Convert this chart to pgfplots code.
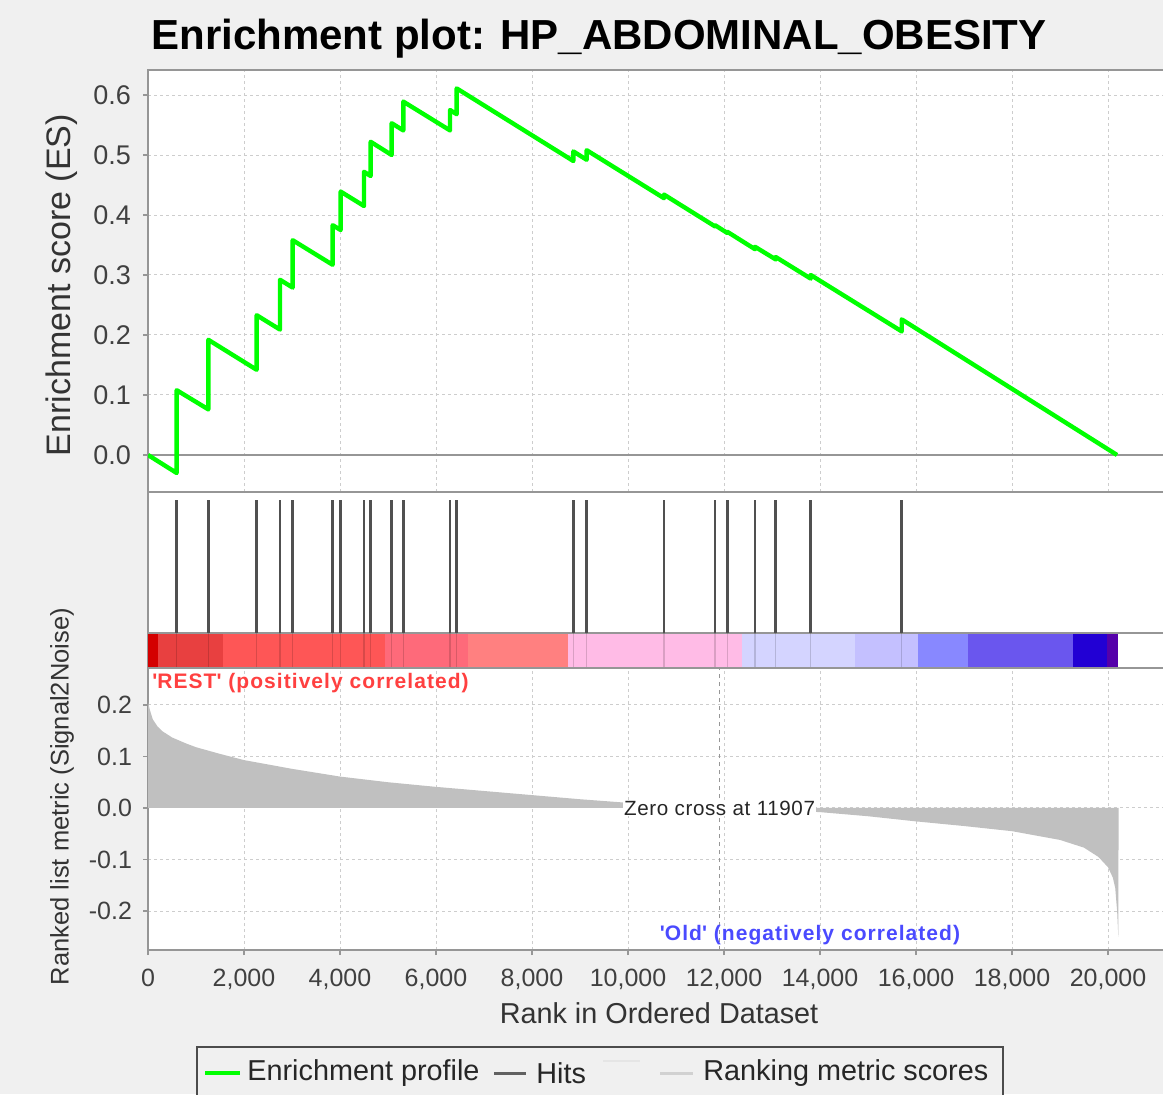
\documentclass[border=0pt]{standalone}
\usepackage{pgfplots}
\pgfplotsset{compat=1.18}
\usepackage{fontspec}
\setmainfont{Liberation Sans}
\definecolor{bg}{RGB}{240,240,240}
\definecolor{esgreen}{RGB}{0,255,0}
\definecolor{hitgray}{RGB}{80,80,80}
\definecolor{fillgray}{RGB}{192,192,192}
\definecolor{gridgray}{RGB}{205,205,205}
\definecolor{framegray}{RGB}{150,150,150}
\definecolor{restred}{RGB}{255,64,64}
\definecolor{oldblue}{RGB}{74,74,255}
\definecolor{cA}{RGB}{212,0,0}
\definecolor{cB}{RGB}{232,64,64}
\definecolor{cC}{RGB}{254,86,86}
\definecolor{cD}{RGB}{254,106,122}
\definecolor{cE}{RGB}{255,128,128}
\definecolor{cF}{RGB}{255,187,230}
\definecolor{cG}{RGB}{212,212,255}
\definecolor{cH}{RGB}{196,192,255}
\definecolor{cI}{RGB}{136,136,255}
\definecolor{cJ}{RGB}{106,86,238}
\definecolor{cK}{RGB}{34,0,212}
\definecolor{cL}{RGB}{85,0,170}
\pgfplotsset{
  gseaaxis/.style={
    scale only axis, width=509pt, anchor=south west,
    xmin=0, xmax=21208,
    axis background/.style={fill=white},
    axis line style={framegray, line width=0.6pt},
    tick align=outside, tick pos=left,
    major tick length=2.5pt,
    tick style={framegray, line width=0.6pt},
    major grid style={gridgray, dash pattern=on 1.5pt off 1.5pt, line width=0.5pt},
    scaled x ticks=false, scaled y ticks=false,
    clip=true,
  }
}
\begin{document}
\begin{tikzpicture}[x=0.5pt,y=0.5pt]
\useasboundingbox (0,0) rectangle (1163,1094);
\fill[bg] (0,0) rectangle (1163,1094);
\begin{scope}
\clip (0,0) rectangle (1163,1094);
% title
\node[anchor=base, font=\bfseries\fontsize{21}{25}\selectfont, inner sep=0pt] at (599,1044) {Enrichment plot: HP\_ABDOMINAL\_OBESITY};

% ---------------- top: enrichment score
\begin{axis}[gseaaxis,
  at={(74pt,301pt)}, height=211pt,
  ymin=-0.0617, ymax=0.6417,
  xtick={0,2000,4000,6000,8000,10000,12000,14000,16000,18000,20000},
  xticklabels={}, xtick style={draw=none},
  ytick={0,0.1,0.2,0.3,0.4,0.5,0.6},
  yticklabel style={font=\fontsize{13.5}{16}\selectfont, text=black!75, xshift=-2.5pt,
    /pgf/number format/.cd, fixed, fixed zerofill, precision=1, assume math mode=true},
  grid=major,
  ylabel={Enrichment score (ES)},
  ylabel style={at={(axis description cs:-0.0845,0.49)}, anchor=center,
    font=\fontsize{17}{20}\selectfont, text=black!80},
]
\addplot[framegray, line width=0.75pt] coordinates {(0,0) (21208,0)};
\addplot[esgreen, line width=2.2pt, line join=round] coordinates {
(0,0)
(597,-0.030) (597,0.108)
(1257,0.076) (1257,0.192)
(2264,0.142) (2264,0.233)
(2750,0.209) (2750,0.292)
(3014,0.279) (3014,0.358)
(3847,0.317) (3847,0.383)
(4014,0.375) (4014,0.439)
(4500,0.415) (4500,0.472)
(4639,0.465) (4639,0.522)
(5076,0.500) (5076,0.553)
(5319,0.541) (5319,0.589)
(6292,0.541) (6292,0.575)
(6431,0.568) (6431,0.611)
(8861,0.490) (8861,0.506)
(9139,0.492) (9139,0.508)
(10750,0.428) (10750,0.434)
(11813,0.381) (11813,0.383)
(12069,0.370) (12069,0.372)
(12646,0.343) (12646,0.347)
(13077,0.326) (13077,0.330)
(13806,0.294) (13806,0.300)
(15702,0.206) (15702,0.226)
(20188,0.0)
};
\end{axis}

% ---------------- middle: hits and colour bar
\begin{axis}[gseaaxis,
  at={(74pt,213pt)}, height=88pt,
  ymin=0, ymax=176,
  xtick=\empty, ytick=\empty,
]
\addplot[fill=cA, draw=none] coordinates {(0,0)(215,0)(215,35)(0,35)} -- cycle;
\addplot[fill=cB, draw=none] coordinates {(215,0)(1569,0)(1569,35)(215,35)} -- cycle;
\addplot[fill=cC, draw=none] coordinates {(1569,0)(4937,0)(4937,35)(1569,35)} -- cycle;
\addplot[fill=cD, draw=none] coordinates {(4937,0)(6673,0)(6673,35)(4937,35)} -- cycle;
\addplot[fill=cE, draw=none] coordinates {(6673,0)(8756,0)(8756,35)(6673,35)} -- cycle;
\addplot[fill=cF, draw=none] coordinates {(8756,0)(12368,0)(12368,35)(8756,35)} -- cycle;
\addplot[fill=cG, draw=none] coordinates {(12368,0)(14729,0)(14729,35)(12368,35)} -- cycle;
\addplot[fill=cH, draw=none] coordinates {(14729,0)(16048,0)(16048,35)(14729,35)} -- cycle;
\addplot[fill=cI, draw=none] coordinates {(16048,0)(17090,0)(17090,35)(16048,35)} -- cycle;
\addplot[fill=cJ, draw=none] coordinates {(17090,0)(19277,0)(19277,35)(17090,35)} -- cycle;
\addplot[fill=cK, draw=none] coordinates {(19277,0)(19973,0)(19973,35)(19277,35)} -- cycle;
\addplot[fill=cL, draw=none] coordinates {(19973,0)(20215,0)(20215,35)(19973,35)} -- cycle;
\addplot[framegray, line width=0.6pt] coordinates {(0,35)(21208,35)};
% hits: faint through the bar, dark above it
\addplot[black, opacity=0.15, line width=0.6pt, unbounded coords=jump] coordinates {
(597,0)(597,35)(597,nan) (1257,0)(1257,35)(1257,nan) (2264,0)(2264,35)(2264,nan)
(2750,0)(2750,35)(2750,nan) (3014,0)(3014,35)(3014,nan) (3847,0)(3847,35)(3847,nan)
(4014,0)(4014,35)(4014,nan) (4500,0)(4500,35)(4500,nan) (4639,0)(4639,35)(4639,nan)
(5076,0)(5076,35)(5076,nan) (5319,0)(5319,35)(5319,nan) (6292,0)(6292,35)(6292,nan)
(6431,0)(6431,35)(6431,nan) (8861,0)(8861,35)(8861,nan) (9139,0)(9139,35)(9139,nan)
(10750,0)(10750,35)(10750,nan) (11813,0)(11813,35)(11813,nan) (12069,0)(12069,35)(12069,nan)
(12646,0)(12646,35)(12646,nan) (13077,0)(13077,35)(13077,nan) (13806,0)(13806,35)(13806,nan)
(15702,0)(15702,35)
};
\addplot[hitgray, line width=1.4pt, unbounded coords=jump] coordinates {
(597,35)(597,168)(597,nan) (1257,35)(1257,168)(1257,nan) (2264,35)(2264,168)(2264,nan)
(2750,35)(2750,168)(2750,nan) (3014,35)(3014,168)(3014,nan) (3847,35)(3847,168)(3847,nan)
(4014,35)(4014,168)(4014,nan) (4500,35)(4500,168)(4500,nan) (4639,35)(4639,168)(4639,nan)
(5076,35)(5076,168)(5076,nan) (5319,35)(5319,168)(5319,nan) (6292,35)(6292,168)(6292,nan)
(6431,35)(6431,168)(6431,nan) (8861,35)(8861,168)(8861,nan) (9139,35)(9139,168)(9139,nan)
(10750,35)(10750,168)(10750,nan) (11813,35)(11813,168)(11813,nan) (12069,35)(12069,168)(12069,nan)
(12646,35)(12646,168)(12646,nan) (13077,35)(13077,168)(13077,nan) (13806,35)(13806,168)(13806,nan)
(15702,35)(15702,168)
};
\end{axis}

% ---------------- bottom: ranked list metric
\begin{axis}[gseaaxis,
  at={(74pt,72pt)}, height=141pt,
  ymin=-0.2757, ymax=0.2718,
  axis line style={framegray, line width=0.9pt},
  xtick={0,2000,4000,6000,8000,10000,12000,14000,16000,18000,20000},
  ytick={-0.2,-0.1,0,0.1,0.2},
  xticklabel style={font=\fontsize{12.5}{15}\selectfont, text=black!75, yshift=-3.5pt,
    /pgf/number format/.cd, fixed, precision=0, 1000 sep={,}, assume math mode=true},
  yticklabel style={font=\fontsize{12.5}{15}\selectfont, text=black!75, xshift=-2pt,
    /pgf/number format/.cd, fixed, fixed zerofill, precision=1, assume math mode=true},
  grid=major,
  xlabel={Rank in Ordered Dataset},
  xlabel style={at={(axis description cs:0.502,-0.223)}, anchor=center,
    font=\fontsize{14.4}{17}\selectfont, text=black!80},
  ylabel={Ranked list metric (Signal2Noise)},
  ylabel style={at={(axis description cs:-0.0845,0.544)}, anchor=center,
    font=\fontsize{12.75}{15}\selectfont, text=black!80},
]
\addplot[fill=fillgray, draw=none] coordinates {
(0,0.205)(40,0.190)(100,0.172)(200,0.158)(300,0.149)(500,0.137)(800,0.125)
(1000,0.118)(1500,0.105)(2000,0.093)(3000,0.076)(4000,0.061)(5000,0.050)
(6000,0.041)(7000,0.033)(8000,0.025)(9000,0.017)(10000,0.010)(11000,0.006)
(11907,0)(13000,-0.004)(14000,-0.008)(15000,-0.016)(16000,-0.026)(17000,-0.035)
(18000,-0.045)(19000,-0.062)(19500,-0.077)(19800,-0.095)(20000,-0.115)
(20100,-0.135)(20150,-0.155)(20190,-0.200)(20215,-0.250)(20220,0)
} \closedcycle;
\addplot[framegray, dash pattern=on 2pt off 2pt, line width=0.6pt] coordinates {(11907,-0.2757)(11907,0.2718)};
\node[fill=white, inner sep=0.5pt, font=\fontsize{10.3}{12}\selectfont\addfontfeature{LetterSpace=3}, text=black!85] at (axis cs:11907,0) {Zero cross at 11907};
\node[anchor=west, inner sep=0pt, font=\bfseries\fontsize{10.5}{12}\selectfont\addfontfeature{LetterSpace=5}, text=restred] at (axis cs:83,0.243) {\textquotesingle REST\textquotesingle\ (positively correlated)};
\node[anchor=center, inner sep=0pt, font=\bfseries\fontsize{10.5}{12}\selectfont\addfontfeature{LetterSpace=5}, text=oldblue] at (axis cs:13792,-0.2466) {\textquotesingle Old\textquotesingle\ (negatively correlated)};
\end{axis}

% ---------------- legend
\draw[black!70, line width=0.75pt, fill=bg] (197,47) rectangle (1003,-20);
\draw[esgreen, line width=2pt] (205,21) -- (240,21);
\node[anchor=west, inner sep=0pt, font=\fontsize{14.4}{17}\selectfont, text=black!85] at (247,21) {Enrichment profile};
\draw[hitgray!90, line width=1.5pt] (494,21) -- (526,21);
\node[anchor=west, inner sep=0pt, font=\fontsize{14.4}{17}\selectfont, text=black!85] at (536,21) {Hits};
\draw[black!10, line width=1.2pt] (603,33) -- (640,33);
\draw[black!18, line width=1.5pt] (660,21) -- (693,21);
\node[anchor=west, inner sep=0pt, font=\fontsize{14.4}{17}\selectfont, text=black!85] at (703,21) {Ranking metric scores};
\end{scope}
\end{tikzpicture}
\end{document}
